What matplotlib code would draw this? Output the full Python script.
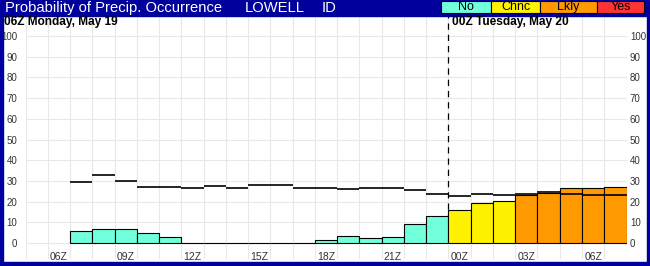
import matplotlib

matplotlib.use("Agg")
import matplotlib.pyplot as plt
from matplotlib.patches import Rectangle

# hours after 06Z Monday (bar i covers hour h .. h+1)
hours = list(range(1, 26))
pop = [6, 7, 7, 5, 3, 0, 0, 0, 0, 0, 0, 1.5, 3.5, 2.5, 3, 9, 13,
       16, 19.5, 20.5, 23, 24, 26.5, 26.5, 27]
category = ["No"] * 17 + ["Chnc"] * 3 + ["Lkly"] * 5
ref_line = [29.5, 33, 30, 27, 27, 26.5, 27.5, 26.5, 28, 28, 26.5, 26.5, 26,
            26.5, 26.5, 25.5, 23.5, 22.5, 23.5, 23, 23.5, 24.5, 23.5, 23, 23]

tick_hours = [0, 3, 6, 9, 12, 15, 18, 21, 24]
tick_labels = ["06Z", "09Z", "12Z", "15Z", "18Z", "21Z", "00Z", "03Z", "06Z"]
day_labels = ["06Z Monday, May 19", "00Z Tuesday, May 20"]

cat_names = ["No", "Chnc", "Lkly", "Yes"]
cat_colors = {"No": "#72FFDC", "Chnc": "#FFF200", "Lkly": "#FF9900", "Yes": "#FF3333"}
navy = "#00009C"

plt.rcParams["font.family"] = ["Liberation Sans", "DejaVu Sans"]

W, H = 650, 266
fig = plt.figure(figsize=(W / 100, H / 100), dpi=100, facecolor="white")


def fx(px):
    return px / W


def fy(py):
    return 1 - py / H


# frame: title bar + borders
for x0, y0, w, h in [(0, 0, W, 16), (0, 0, 3, H), (W - 3, 0, 3, H), (0, H - 4, W, 4)]:
    fig.patches.append(Rectangle((fx(x0), fy(y0 + h)), w / W, h / H,
                                 transform=fig.transFigure, color=navy, zorder=0))

fig.text(fx(5), fy(8), "Probability of Precip. Occurrence", color="white",
         fontsize=10.6, va="center", ha="left")
fig.text(fx(245), fy(8), "LOWELL", color="white", fontsize=10.6, va="center")
fig.text(fx(322), fy(8), "ID", color="white", fontsize=10.6, va="center")

# category legend in title bar
edges = [441, 491, 540, 597, 644]
for i, name in enumerate(cat_names):
    fig.patches.append(Rectangle((fx(edges[i]), fy(13)), (edges[i + 1] - edges[i]) / W,
                                 12 / H, transform=fig.transFigure,
                                 facecolor=cat_colors[name], edgecolor="black",
                                 linewidth=0.8, zorder=2))
    fig.text(fx((edges[i] + edges[i + 1]) / 2), fy(7.3), name, fontsize=9,
             ha="center", va="center", zorder=3)

ax = fig.add_axes([fx(25.5), fy(259), 601 / W, 243 / H])
ax.set_xlim(-1, 26)
ax.set_ylim(-7.7, 109.7)
for s in ax.spines.values():
    s.set_visible(False)

for h in range(-1, 27):
    ax.axvline(h, color="#E8E8E8", linewidth=0.8, zorder=0)
for v in range(0, 101, 10):
    ax.axhline(v, color="#E8E8E8", linewidth=0.8, zorder=0)

ax.vlines(18, 0, 109.7, colors="black", linestyles=(0, (5, 4)), linewidth=0.9, zorder=1)

ax.bar(hours, pop, width=1, align="edge",
       color=[cat_colors[c] for c in category], edgecolor="black", linewidth=0.8, zorder=2)
ax.hlines(ref_line, hours, [h + 1 for h in hours], colors="black", linewidth=1.2, zorder=3)

ax.set_xticks([])
ax.set_yticks(range(0, 101, 10))
ax.tick_params(axis="y", length=0, labelsize=7, labelcolor="#333333", pad=6)

# right-hand copy of the y labels, closer to the plot
ax2 = ax.twinx()
ax2.set_ylim(ax.get_ylim())
ax2.set_yticks(range(0, 101, 10))
ax2.tick_params(axis="y", length=0, labelsize=7, labelcolor="#333333", pad=2.5)
for s in ax2.spines.values():
    s.set_visible(False)

for h, lab in zip(tick_hours, tick_labels):
    ax.text(h + 0.5, -6.8, lab, fontsize=7.5, color="#333333", ha="center", va="center")

fig.text(fx(4), fy(22), day_labels[0], fontsize=8.6, fontweight="bold", va="center")
fig.text(fx(452), fy(22), day_labels[1], fontsize=8.6, fontweight="bold", va="center")

fig.savefig("out.png", dpi=100, facecolor="white")
